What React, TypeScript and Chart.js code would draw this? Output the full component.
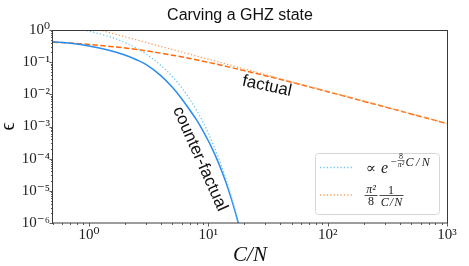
import React, { useEffect, useRef } from "react";
import { Chart, registerables } from "chart.js";

Chart.register(...registerables);

// counter-factual (solid blue)
const cfX = [0.5, 0.7, 1, 1.5, 2, 2.5, 3, 4, 5, 6, 7, 8, 9, 10, 11, 12, 13, 14, 15, 16, 17, 18];
const cfY = [0.43, 0.385, 0.32, 0.232, 0.167, 0.119, 0.085, 0.038, 0.0165, 0.0072, 0.00326, 0.00157, 7.5e-4, 3.6e-4, 1.74e-4, 8.4e-5, 4.0e-5, 1.9e-5, 8.9e-6, 4.2e-6, 1.92e-6, 8.7e-7];
// exponential asymptote (dotted blue)
const expX = [0.5, 0.7, 1, 1.5, 2, 2.5, 3, 4, 5, 6, 7, 8, 9, 10, 11, 12, 13, 14, 15, 16, 17, 18, 19];
const expY = [1.375, 1.168, 0.916, 0.611, 0.407, 0.2715, 0.181, 0.0805, 0.0358, 0.0159, 0.00708, 0.00315, 0.0014, 6.22e-4, 2.76e-4, 1.23e-4, 5.46e-5, 2.43e-5, 1.08e-5, 4.8e-6, 2.13e-6, 9.5e-7, 4.2e-7];
// factual (dashed orange)
const fX = [0.5, 0.7, 1, 1.5, 2, 3, 5, 7, 10, 15, 20, 30, 50, 70, 100, 200, 500, 1000];
const fY = [0.416, 0.392, 0.355, 0.309, 0.276, 0.226, 0.165, 0.13, 0.0986, 0.0702, 0.0546, 0.0381, 0.0237, 0.0171, 0.0121, 0.00611, 0.00246, 0.00123];
// 1/(C/N) asymptote (dotted orange)
const invX = [0.5, 1, 2, 5, 10, 100, 1000];
const invY = [2.47, 1.234, 0.617, 0.247, 0.1234, 0.01234, 0.001234];

const xTicks = [1, 10, 100, 1000];
const xTickLabels = ["10⁰", "10¹", "10²", "10³"];
const yTicks = [1e-6, 1e-5, 1e-4, 1e-3, 1e-2, 1e-1, 1];
const yTickLabels = ["10⁻⁶", "10⁻⁵", "10⁻⁴", "10⁻³", "10⁻²", "10⁻¹", "10⁰"];

const titleText = "Carving a GHZ state";
const xLabel = "C/N";
const yLabel = "ϵ";
const annFactual = { text: "factual", x: 31, y: 0.018, angle: 12 };
const annCounter = { text: "counter-factual", x: 8.5, y: 9.8e-5, angle: 66 };

const SERIF = "'Liberation Serif', 'DejaVu Serif', serif";
const SANS = "'Liberation Sans', Arial, sans-serif";

const C_BLUE = "#2a8cf0";
const C_BLUE_DOT = "#74c6f0";
const C_ORANGE = "#ff6a0a";
const C_ORANGE_DOT = "#ffa060";

const pts = (xs: number[], ys: number[]) => xs.map((x, i) => ({ x, y: ys[i] }));

const decor = {
  id: "decor",
  afterDatasetsDraw(chart: any) {
    const { ctx, chartArea: a, scales } = chart;
    const xs = scales.x;
    const ys = scales.y;
    ctx.save();
    ctx.strokeStyle = "#333";
    ctx.lineWidth = 0.8;
    // x ticks
    for (let d = -1; d <= 3; d++) {
      for (let m = 1; m <= 9; m++) {
        const v = m * Math.pow(10, d);
        if (v < 0.5 - 1e-9 || v > 1000 + 1e-9) continue;
        const px = Math.round(xs.getPixelForValue(v)) + 0.5;
        const len = m === 1 ? 3.5 : 2;
        ctx.beginPath();
        ctx.moveTo(px, a.bottom);
        ctx.lineTo(px, a.bottom + len);
        ctx.stroke();
      }
    }
    // y ticks
    for (let d = -6; d <= 0; d++) {
      for (let m = 1; m <= 9; m++) {
        const v = m * Math.pow(10, d);
        if (v > 1 + 1e-9) continue;
        const py = Math.round(ys.getPixelForValue(v)) + 0.5;
        const len = m === 1 ? 3.5 : 2;
        ctx.beginPath();
        ctx.moveTo(a.left, py);
        ctx.lineTo(a.left - len, py);
        ctx.stroke();
      }
    }
    // frame
    ctx.strokeStyle = "#3a3a3a";
    ctx.lineWidth = 1;
    ctx.strokeRect(Math.round(a.left) - 0.5, Math.round(a.top) + 0.5, Math.round(a.right - a.left) + 1, Math.round(a.bottom - a.top) - 0.5);

    // annotations
    ctx.fillStyle = "#111";
    ctx.font = `17px ${SANS}`;
    ctx.textAlign = "center";
    ctx.textBaseline = "middle";
    for (const an of [annFactual, annCounter]) {
      ctx.save();
      ctx.translate(xs.getPixelForValue(an.x), ys.getPixelForValue(an.y));
      ctx.rotate((an.angle * Math.PI) / 180);
      ctx.fillText(an.text, 0, 0);
      ctx.restore();
    }

    // legend
    const w = 124, h = 61;
    const lx = a.right - 8 - w;
    const ly = a.bottom - 9 - h;
    ctx.beginPath();
    (ctx as any).roundRect(lx + 0.5, ly + 0.5, w, h, 3);
    ctx.fillStyle = "rgba(255,255,255,0.85)";
    ctx.fill();
    ctx.strokeStyle = "#d6d6d6";
    ctx.lineWidth = 1;
    ctx.stroke();

    const sample = (y: number, color: string) => {
      ctx.save();
      ctx.strokeStyle = color;
      ctx.lineWidth = 1.3;
      ctx.setLineDash([1.3, 2.1]);
      ctx.beginPath();
      ctx.moveTo(lx + 5, y);
      ctx.lineTo(lx + 39, y);
      ctx.stroke();
      ctx.restore();
    };
    sample(ly + 14.5, C_BLUE_DOT);
    sample(ly + 42, C_ORANGE_DOT);

    ctx.fillStyle = "#222";
    ctx.textAlign = "left";
    ctx.textBaseline = "alphabetic";
    // entry 1: ∝ e^{-8/π² C/N}
    ctx.font = `15px ${SERIF}`;
    ctx.fillText("∝", lx + 51, ly + 20);
    ctx.font = `italic 16px ${SERIF}`;
    ctx.fillText("e", lx + 66, ly + 20);
    ctx.font = `11px ${SERIF}`;
    ctx.fillText("−", lx + 75.5, ly + 11.5);
    ctx.font = `8px ${SERIF}`;
    ctx.textAlign = "center";
    ctx.fillText("8", lx + 86, ly + 6);
    ctx.font = `italic 8px ${SERIF}`;
    ctx.fillText("π²", lx + 86, ly + 13.5);
    ctx.fillRect(lx + 82.5, ly + 7.3, 7, 0.6);
    ctx.textAlign = "left";
    ctx.font = `italic 12px ${SERIF}`;
    (ctx as any).letterSpacing = "2.5px";
    ctx.fillText("C/N", lx + 90.5, ly + 12.5);
    (ctx as any).letterSpacing = "0px";

    // entry 2: π²/8 · 1/(C/N)
    ctx.textAlign = "center";
    ctx.font = `italic 12px ${SERIF}`;
    ctx.fillText("π²", lx + 56, ly + 40);
    ctx.fillRect(lx + 49.5, ly + 42.2, 13, 0.8);
    ctx.font = `12px ${SERIF}`;
    ctx.fillText("8", lx + 56, ly + 52);
    ctx.fillText("1", lx + 76, ly + 41);
    ctx.fillRect(lx + 64.5, ly + 42.2, 24, 0.8);
    ctx.font = `italic 12px ${SERIF}`;
    (ctx as any).letterSpacing = "1px";
    ctx.fillText("C/N", lx + 77, ly + 53);
    (ctx as any).letterSpacing = "0px";
    ctx.restore();
  },
};

export default function App() {
  const ref = useRef<HTMLCanvasElement>(null);
  useEffect(() => {
    const tickLabel = (vals: number[], labels: string[]) => (v: any) => {
      const i = vals.findIndex((t) => Math.abs(t - v) / t < 1e-6);
      return i >= 0 ? labels[i] : "";
    };
    const chart = new Chart(ref.current as HTMLCanvasElement, {
      type: "line",
      data: {
        datasets: [
          { label: "exp", data: pts(expX, expY), borderColor: C_BLUE_DOT, borderWidth: 1.3, borderDash: [1.3, 2.1], pointRadius: 0, cubicInterpolationMode: "monotone", clip: 0 } as any,
          { label: "inv", data: pts(invX, invY), borderColor: C_ORANGE_DOT, borderWidth: 1.3, borderDash: [1.3, 2.1], pointRadius: 0, clip: 0 } as any,
          { label: "counter-factual", data: pts(cfX, cfY), borderColor: C_BLUE, borderWidth: 1.5, pointRadius: 0, cubicInterpolationMode: "monotone", clip: 0 } as any,
          { label: "factual", data: pts(fX, fY), borderColor: C_ORANGE, borderWidth: 1.5, borderDash: [5.5, 2.4], pointRadius: 0, cubicInterpolationMode: "monotone", clip: 0 } as any,
        ],
      },
      options: {
        responsive: false,
        animation: false,
        devicePixelRatio: 1,
        layout: { padding: { left: 11, right: 0, top: 0, bottom: 0 } },
        plugins: {
          legend: { display: false },
          tooltip: { enabled: false },
          title: {
            display: true,
            text: titleText,
            color: "#111",
            font: { family: SANS, size: 16, weight: "normal", lineHeight: 1.2 },
            padding: { top: 6, bottom: 4.8 },
          },
        },
        scales: {
          x: {
            type: "logarithmic",
            position: "bottom",
            min: 0.5,
            max: 1000,
            afterBuildTicks: (s: any) => {
              s.ticks = xTicks.map((v) => ({ value: v }));
            },
            afterFit: (s: any) => {
              s.height = 43;
            },
            grid: { display: true, drawOnChartArea: false, drawTicks: true, tickLength: 3, color: "rgba(0,0,0,0)" },
            border: { display: false },
            ticks: { autoSkip: false, maxRotation: 0, padding: 0, color: "#222", font: { family: SERIF, size: 15 }, callback: tickLabel(xTicks, xTickLabels) },
            title: { display: true, text: xLabel, color: "#111", font: { family: SERIF, size: 21, style: "italic", lineHeight: 1 }, padding: { top: 0, bottom: 0 } },
          },
          y: {
            type: "logarithmic",
            position: "left",
            min: 1e-6,
            max: 1,
            afterBuildTicks: (s: any) => {
              s.ticks = yTicks.map((v) => ({ value: v }));
            },
            afterFit: (s: any) => {
              s.width = 42;
            },
            grid: { display: true, drawOnChartArea: false, drawTicks: true, tickLength: 3, color: "rgba(0,0,0,0)" },
            border: { display: false },
            ticks: { autoSkip: false, padding: 0, color: "#222", font: { family: SERIF, size: 15 }, callback: tickLabel(yTicks, yTickLabels) },
            title: { display: true, text: yLabel, color: "#111", font: { family: SERIF, size: 20, lineHeight: 1 }, padding: { top: -12, bottom: 0 } },
          },
          y2: {
            type: "linear",
            position: "right",
            display: true,
            afterFit: (s: any) => {
              s.width = 22;
            },
            grid: { display: false },
            border: { display: false },
            ticks: { display: false },
          },
        },
      } as any,
      plugins: [decor],
    });
    return () => chart.destroy();
  }, []);
  return (
    <div style={{ position: "fixed", left: 0, top: 0, width: 469, height: 266, background: "#fff" }}>
      <canvas ref={ref} width={469} height={266} style={{ display: "block", width: 469, height: 266 }} />
    </div>
  );
}
